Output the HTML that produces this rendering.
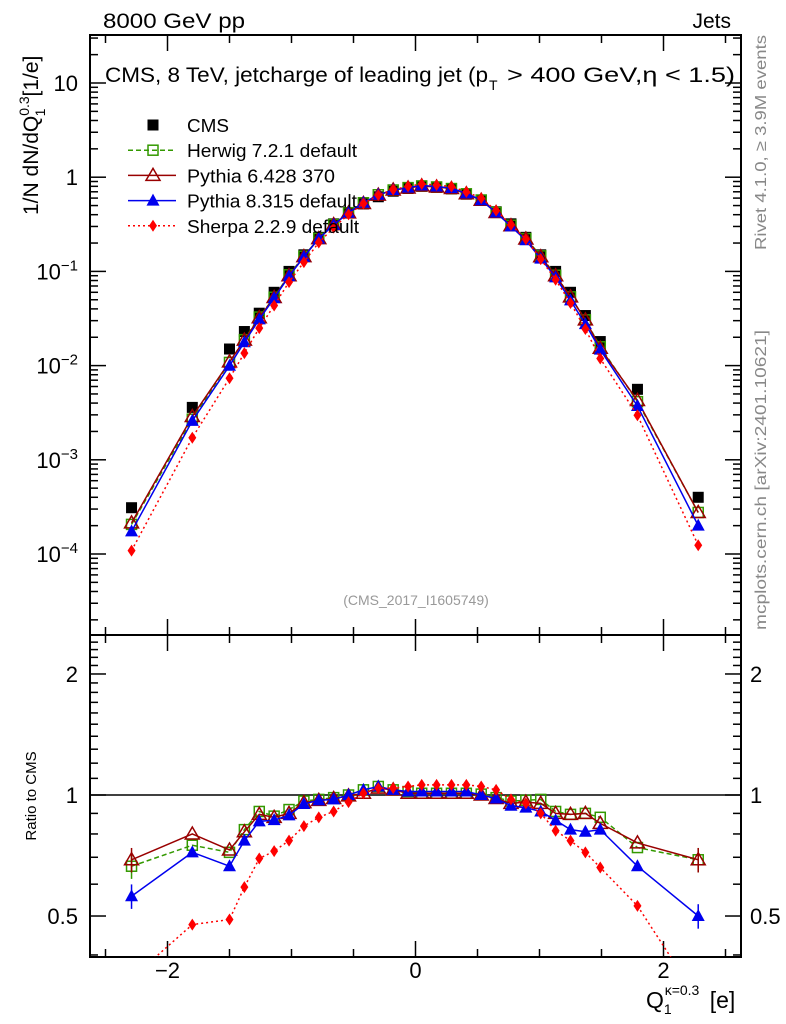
<!DOCTYPE html>
<html><head><meta charset="utf-8"><style>
html,body{margin:0;padding:0;background:#fff;}
svg{display:block;font-family:"Liberation Sans",Arial,sans-serif;}
</style></head><body>
<svg id="c" width="786" height="1024" viewBox="0 0 786 1024" xmlns="http://www.w3.org/2000/svg"></svg>
<script>
const xVals=[-2.29,-1.8,-1.5,-1.38,-1.26,-1.14,-1.02,-0.9,-0.78,-0.66,-0.54,-0.42,-0.3,-0.18,-0.06,0.05,0.17,0.29,0.41,0.53,0.65,0.77,0.89,1.01,1.13,1.25,1.37,1.49,1.79,2.28];
const cmsVals=[3.1e-4,3.6e-3,0.015,0.023,0.036,0.06,0.1,0.15,0.23,0.32,0.42,0.52,0.62,0.71,0.76,0.8,0.78,0.75,0.66,0.57,0.43,0.32,0.23,0.15,0.1,0.06,0.034,0.018,0.0056,4e-4];
const herwigRatio=[0.665,0.75,0.72,0.82,0.91,0.886,0.92,0.966,0.975,0.985,1.0,1.03,1.05,1.03,1.02,1.01,1.01,1.01,1.01,1.005,0.985,0.966,0.97,0.975,0.91,0.895,0.9,0.88,0.74,0.69];
const pythia6Ratio=[0.69,0.80,0.73,0.81,0.895,0.88,0.90,0.957,0.97,0.98,0.995,1.01,1.04,1.03,1.01,1.01,1.01,1.01,1.01,1.0,0.98,0.953,0.96,0.953,0.90,0.895,0.90,0.85,0.76,0.69];
const pythia8Ratio=[0.56,0.72,0.665,0.77,0.86,0.866,0.89,0.95,0.97,0.975,1.0,1.03,1.05,1.03,1.02,1.02,1.02,1.02,1.02,1.0,0.98,0.94,0.93,0.91,0.865,0.82,0.81,0.82,0.665,0.50];
const sherpaRatio=[0.35,0.476,0.49,0.59,0.695,0.725,0.77,0.837,0.88,0.91,0.96,1.01,1.04,1.04,1.05,1.06,1.06,1.06,1.06,1.05,1.03,0.975,0.953,0.90,0.815,0.77,0.72,0.66,0.53,0.31];
const xTickMajor=[-2,0,2];
const xTickLabels=["\u22122","0","2"];
const yDecades=[-4,-3,-2,-1,0,1];
const yLabels=["10","1"];
const rTickMajor=[0.5,1,2];

const S=document.getElementById('c');const NS='http://www.w3.org/2000/svg';
function el(t,a,p){const e=document.createElementNS(NS,t);for(const k in a)e.setAttribute(k,a[k]);(p||S).appendChild(e);return e;}
const L=90,R=741,T=35,MB=635,RB=957;
const xmin=-2.625,xmax=2.625;
const X=v=>L+(v-xmin)/(xmax-xmin)*(R-L);
const Y=v=>554-(Math.log10(v)+4)*94.2;
const YR=v=>795-Math.log10(v)*402;

const fm=el('rect',{x:L,y:T,width:R-L,height:MB-T,fill:'none',stroke:'#000','stroke-width':2});

const fr=el('rect',{x:L,y:MB,width:R-L,height:RB-MB,fill:'none',stroke:'#000','stroke-width':2});


function xticks(top,bot){for(let v=-2.5;v<=2.51;v+=0.5){const maj=Math.abs(v%2)<1e-6;const len=maj?16:8;const x=X(v);
el('line',{x1:x,x2:x,y1:bot,y2:bot-len,stroke:'#000','stroke-width':1.5});el('line',{x1:x,x2:x,y1:top,y2:top+len,stroke:'#000','stroke-width':1.5});}}
xticks(T,MB);xticks(MB,RB);
xTickMajor.forEach((v,i)=>{const t=el('text',{x:X(v),y:978,'font-size':22,'text-anchor':'middle'});t.textContent=xTickLabels[i];
});

for(let d=-5;d<=1;d++){for(let m=1;m<10;m++){const v=m*Math.pow(10,d);const y=Y(v);if(y<T||y>MB)continue;const len=m==1?16:8;
el('line',{x1:L,x2:L+len,y1:y,y2:y,stroke:'#000','stroke-width':1.5});el('line',{x1:R,x2:R-len,y1:y,y2:y,stroke:'#000','stroke-width':1.5});}}
yDecades.forEach(d=>{const y=Y(Math.pow(10,d))+8;const t=el('text',{x:78,y:y,'font-size':22,'text-anchor':'end'});

if(d==1)t.textContent=yLabels[0];else if(d==0)t.textContent=yLabels[1];else{t.textContent='10';const s=el('tspan',{dy:-9,'font-size':15},t);s.textContent='\u2212'+(-d);}});

for(let v=0.4;v<=2.51;v+=0.1){const y=YR(v);if(y<MB||y>RB)continue;const maj=rTickMajor.some(m=>Math.abs(m-v)<1e-6);const len=maj?16:8;
el('line',{x1:L,x2:L+len,y1:y,y2:y,stroke:'#000','stroke-width':1.5});el('line',{x1:R,x2:R-len,y1:y,y2:y,stroke:'#000','stroke-width':1.5});}
rTickMajor.forEach(v=>{const y=YR(v)+8;const a=el('text',{x:78,y:y,'font-size':22,'text-anchor':'end'});a.textContent=String(v);

const b=el('text',{x:750,y:y,'font-size':22}); b.textContent=String(v);
});
const ul=el('line',{x1:L,x2:R,y1:YR(1),y2:YR(1),stroke:'#000','stroke-width':1.5});


function marker(kind,x,y,g){
 if(kind=='cms')return el('rect',{x:x-5.5,y:y-5.5,width:11,height:11,fill:'#000'},g);
 if(kind=='h')return el('rect',{x:x-5,y:y-5,width:10,height:10,fill:'none',stroke:'#339900','stroke-width':1.5},g);
 if(kind=='p6')return el('polygon',{points:`${x},${y-7} ${x-7},${y+5} ${x+7},${y+5}`,fill:'none',stroke:'#990000','stroke-width':1.5},g);
 if(kind=='p8')return el('polygon',{points:`${x},${y-7} ${x-6.5},${y+5} ${x+6.5},${y+5}`,fill:'#0000ee'},g);
 if(kind=='s')return el('polygon',{points:`${x},${y-6} ${x-4},${y} ${x},${y+6} ${x+4},${y}`,fill:'#ff0000'},g);
}
const series=[
 {k:'h',r:herwigRatio,c:'#339900',d:'5,3',name:'herwig'},
 {k:'p6',r:pythia6Ratio,c:'#990000',d:'',name:'pythia6'},
 {k:'p8',r:pythia8Ratio,c:'#0000ee',d:'',name:'pythia8'},
 {k:'s',r:sherpaRatio,c:'#ff0000',d:'2,3',name:'sherpa'}];
const defs=el('defs',{});const cp=el('clipPath',{id:'rc'},defs);el('rect',{x:L,y:MB,width:R-L,height:RB-MB},cp);
const gc=el('g',{});
cmsVals.forEach((v,i)=>marker('cms',X(xVals[i]),Y(v),gc));
series.forEach(s=>{
 const vals=s.r.map((r,i)=>r*cmsVals[i]);
 const g=el('g',{});
 el('polyline',{points:vals.map((v,i)=>X(xVals[i])+','+Y(v)).join(' '),fill:'none',stroke:s.c,'stroke-width':1.5,'stroke-dasharray':s.d},g);
 vals.forEach((v,i)=>marker(s.k,X(xVals[i]),Y(v),g));
 const gr=el('g',{'clip-path':'url(#rc)'});
 el('polyline',{points:s.r.map((v,i)=>X(xVals[i])+','+YR(v)).join(' '),fill:'none',stroke:s.c,'stroke-width':1.5,'stroke-dasharray':s.d},gr);
 s.r.forEach((v,i)=>{const x=X(xVals[i]),y=YR(v);
  if(i==0||i==s.r.length-1){el('line',{x1:x,x2:x,y1:YR(v*1.07),y2:YR(v*0.93),stroke:s.c,'stroke-width':1.5},gr);}
  marker(s.k,x,y,gr);});
});

const leg=[['cms','CMS'],['h','Herwig 7.2.1 default'],['p6','Pythia 6.428 370'],['p8','Pythia 8.315 default'],['s','Sherpa 2.2.9 default']];
const legLen=[42,170,148,170,172];
leg.forEach((e,i)=>{const y=125+i*25.2;const g=el('g',{});
 const s=series.find(q=>q.k==e[0]);
 if(s)el('line',{x1:128,x2:176,y1:y,y2:y,stroke:s.c,'stroke-width':1.5,'stroke-dasharray':s.d},g);
 marker(e[0],153,y,g);
 const t=el('text',{x:187,y:y+7,'font-size':18,textLength:legLen[i],lengthAdjust:'spacingAndGlyphs'},g);t.textContent=e[1];});

function txt(x,y,s,attrs,name){const t=el('text',Object.assign({x:x,y:y},attrs));t.textContent=s;return t;}
txt(103,28,'8000 GeV pp',{'font-size':21,textLength:142,lengthAdjust:'spacingAndGlyphs'},'energy-label');
txt(731,28,'Jets',{'font-size':21,'text-anchor':'end'},'process-label');
txt(105,82,'CMS, 8 TeV, jetcharge of leading jet (p',{'font-size':21,textLength:383,lengthAdjust:'spacingAndGlyphs'},'plot-title');
txt(489,90,'T',{'font-size':14},'plot-title-subscript');
txt(507,82,'> 400 GeV,\u03b7 < 1.5)',{'font-size':21,textLength:228,lengthAdjust:'spacingAndGlyphs'},'plot-title-cut');
txt(416,605,'(CMS_2017_I1605749)',{'font-size':14,fill:'#999','text-anchor':'middle'},'analysis-id');
txt(0,0,'Rivet 4.1.0, \u2265 3.9M events',{'font-size':16,fill:'#888','text-anchor':'end',textLength:215,lengthAdjust:'spacingAndGlyphs',transform:'translate(766,35) rotate(-90)'},'rivet-label');
txt(0,0,'mcplots.cern.ch [arXiv:2401.10621]',{'font-size':16,fill:'#888','text-anchor':'end',textLength:300,lengthAdjust:'spacingAndGlyphs',transform:'translate(766,330) rotate(-90)'},'mcplots-label');
const yl=txt(0,0,'1/N dN/dQ',{'font-size':21,transform:'translate(38,215) rotate(-90)'},'y-axis-title');
const a1=el('tspan',{dy:-9,'font-size':14},yl);a1.textContent='0.3';
const a2=el('tspan',{dx:-20,dy:16,'font-size':14},yl);a2.textContent='1';
const a3=el('tspan',{dx:12,dy:-7},yl);a3.textContent='[1/e]';
txt(0,0,'Ratio to CMS',{'font-size':15,'text-anchor':'middle',transform:'translate(36,796) rotate(-90)'},'ratio-axis-title');
const xl=txt(646,1008,'Q',{'font-size':23},'x-axis-title');
const b1=el('tspan',{dy:6,'font-size':14},xl);b1.textContent='1';
const b2=el('tspan',{dx:-7,dy:-19,'font-size':14},xl);b2.textContent='\u03ba=0.3';
const b3=el('tspan',{dx:4,dy:13},xl);b3.textContent=' [e]';
</script>
</body></html>
